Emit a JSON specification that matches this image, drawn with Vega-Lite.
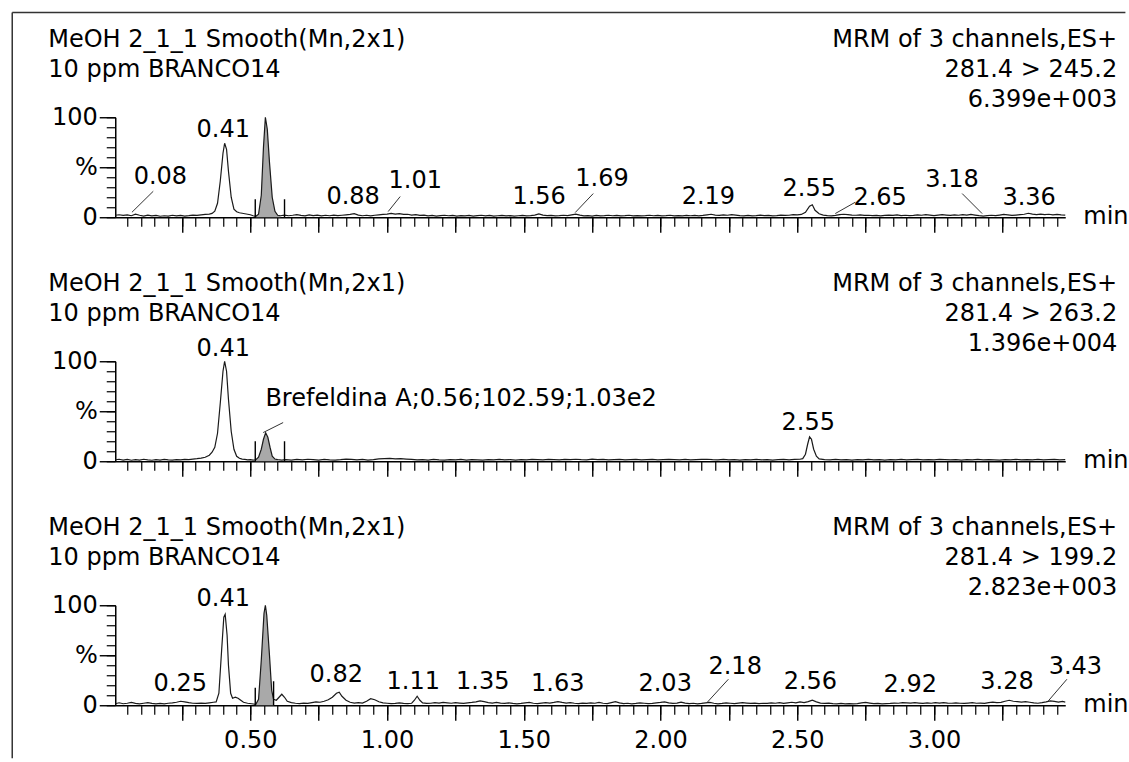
{
"$schema":"https://vega.github.io/schema/vega-lite/v6.json",
"padding":{"left":11.25,"top":11.25,"right":0,"bottom":0},
"background":"white",
"spacing":144,
"bounds":"flush",
"config":{"view":{"stroke":null},"text":{"font":"DejaVu Sans","fontSize":24,"color":"#000"},"axis":{"labelFont":"DejaVu Sans","labelFontSize":24,"labelColor":"#000","domainColor":"#000","tickColor":"#000","grid":false}},
"datasets":{
"c1":[{"t":0.006,"v":2},{"t":0.02,"v":2.5},{"t":0.035,"v":1.8},{"t":0.05,"v":2.4},{"t":0.065,"v":1.5},{"t":0.08,"v":3},{"t":0.095,"v":2},{"t":0.11,"v":1.2},{"t":0.125,"v":2.2},{"t":0.14,"v":1.4},{"t":0.155,"v":1.8},{"t":0.17,"v":1},{"t":0.185,"v":1.5},{"t":0.2,"v":1.2},{"t":0.215,"v":2},{"t":0.23,"v":1.4},{"t":0.245,"v":1.8},{"t":0.26,"v":1.2},{"t":0.275,"v":1.6},{"t":0.29,"v":2.2},{"t":0.305,"v":1.8},{"t":0.32,"v":2.4},{"t":0.335,"v":2.8},{"t":0.35,"v":3.2},{"t":0.36,"v":3.8},{"t":0.37,"v":6},{"t":0.38,"v":14},{"t":0.39,"v":36},{"t":0.4,"v":64},{"t":0.406,"v":74},{"t":0.413,"v":68},{"t":0.42,"v":46},{"t":0.43,"v":20},{"t":0.44,"v":8},{"t":0.45,"v":5.5},{"t":0.46,"v":4.5},{"t":0.47,"v":4},{"t":0.48,"v":3.5},{"t":0.49,"v":3},{"t":0.5,"v":2.5},{"t":0.51,"v":1.5},{"t":0.52,"v":1},{"t":0.53,"v":3},{"t":0.54,"v":22},{"t":0.548,"v":70},{"t":0.555,"v":100},{"t":0.562,"v":88},{"t":0.57,"v":55},{"t":0.58,"v":20},{"t":0.59,"v":6},{"t":0.6,"v":2},{"t":0.61,"v":1.5},{"t":0.625,"v":2.2},{"t":0.64,"v":1.5},{"t":0.655,"v":2},{"t":0.67,"v":2.6},{"t":0.685,"v":1.8},{"t":0.7,"v":1.4},{"t":0.715,"v":2.4},{"t":0.73,"v":1.6},{"t":0.745,"v":2.2},{"t":0.76,"v":1.4},{"t":0.775,"v":2},{"t":0.79,"v":1.5},{"t":0.805,"v":2.2},{"t":0.82,"v":1.6},{"t":0.835,"v":2},{"t":0.85,"v":2.4},{"t":0.865,"v":2.8},{"t":0.88,"v":3.6},{"t":0.895,"v":2.2},{"t":0.91,"v":1.5},{"t":0.925,"v":2},{"t":0.94,"v":1.4},{"t":0.955,"v":2},{"t":0.97,"v":2.4},{"t":0.985,"v":2.8},{"t":1.0,"v":3.2},{"t":1.015,"v":3.8},{"t":1.03,"v":3.2},{"t":1.045,"v":3.6},{"t":1.06,"v":2.8},{"t":1.075,"v":3},{"t":1.09,"v":2.2},{"t":1.105,"v":2.6},{"t":1.12,"v":1.8},{"t":1.135,"v":2.2},{"t":1.15,"v":1.4},{"t":1.165,"v":1.8},{"t":1.18,"v":1.2},{"t":1.195,"v":1.6},{"t":1.21,"v":2},{"t":1.225,"v":1.5},{"t":1.24,"v":1.8},{"t":1.255,"v":1.2},{"t":1.27,"v":1.6},{"t":1.285,"v":1.4},{"t":1.3,"v":1.8},{"t":1.315,"v":1.2},{"t":1.33,"v":1.6},{"t":1.345,"v":2},{"t":1.36,"v":1.4},{"t":1.375,"v":1.8},{"t":1.39,"v":1.2},{"t":1.405,"v":1.5},{"t":1.42,"v":1.8},{"t":1.435,"v":1.3},{"t":1.45,"v":1.6},{"t":1.465,"v":1.2},{"t":1.48,"v":1.5},{"t":1.495,"v":1.8},{"t":1.51,"v":1.4},{"t":1.525,"v":1.6},{"t":1.54,"v":2.2},{"t":1.555,"v":3.4},{"t":1.57,"v":2.2},{"t":1.585,"v":1.6},{"t":1.6,"v":1.8},{"t":1.615,"v":1.4},{"t":1.63,"v":1.6},{"t":1.645,"v":2},{"t":1.66,"v":1.6},{"t":1.675,"v":2.4},{"t":1.69,"v":3.2},{"t":1.705,"v":2.2},{"t":1.72,"v":1.4},{"t":1.735,"v":1.6},{"t":1.75,"v":1.2},{"t":1.765,"v":1.8},{"t":1.78,"v":1.4},{"t":1.795,"v":1.6},{"t":1.81,"v":2},{"t":1.825,"v":1.5},{"t":1.84,"v":1.8},{"t":1.855,"v":1.3},{"t":1.87,"v":1.6},{"t":1.885,"v":2},{"t":1.9,"v":1.4},{"t":1.915,"v":1.7},{"t":1.93,"v":1.3},{"t":1.945,"v":1.6},{"t":1.96,"v":2},{"t":1.975,"v":1.5},{"t":1.99,"v":1.8},{"t":2.005,"v":1.4},{"t":2.02,"v":1.6},{"t":2.035,"v":2},{"t":2.05,"v":1.4},{"t":2.065,"v":1.7},{"t":2.08,"v":1.3},{"t":2.095,"v":1.8},{"t":2.11,"v":1.5},{"t":2.125,"v":1.9},{"t":2.14,"v":1.4},{"t":2.155,"v":1.8},{"t":2.17,"v":2.4},{"t":2.185,"v":3},{"t":2.2,"v":2.2},{"t":2.215,"v":1.8},{"t":2.23,"v":2.4},{"t":2.245,"v":2},{"t":2.26,"v":2.6},{"t":2.275,"v":2.2},{"t":2.29,"v":1.6},{"t":2.305,"v":1.4},{"t":2.32,"v":1.8},{"t":2.335,"v":1.4},{"t":2.35,"v":1.6},{"t":2.365,"v":2.2},{"t":2.38,"v":1.6},{"t":2.395,"v":1.8},{"t":2.41,"v":1.4},{"t":2.425,"v":1.6},{"t":2.44,"v":2.2},{"t":2.455,"v":1.8},{"t":2.47,"v":2},{"t":2.485,"v":2.6},{"t":2.5,"v":2.4},{"t":2.515,"v":2.8},{"t":2.53,"v":5},{"t":2.545,"v":11},{"t":2.555,"v":12.5},{"t":2.565,"v":7},{"t":2.58,"v":3.5},{"t":2.595,"v":2.2},{"t":2.61,"v":1.6},{"t":2.625,"v":1.4},{"t":2.64,"v":1.8},{"t":2.655,"v":2.6},{"t":2.67,"v":3},{"t":2.685,"v":2.6},{"t":2.7,"v":2.2},{"t":2.715,"v":2},{"t":2.73,"v":2.4},{"t":2.745,"v":1.8},{"t":2.76,"v":2},{"t":2.775,"v":1.6},{"t":2.79,"v":1.8},{"t":2.805,"v":1.4},{"t":2.82,"v":1.8},{"t":2.835,"v":2.2},{"t":2.85,"v":1.8},{"t":2.865,"v":2.4},{"t":2.88,"v":1.6},{"t":2.895,"v":2},{"t":2.91,"v":1.6},{"t":2.925,"v":1.8},{"t":2.94,"v":2.4},{"t":2.955,"v":2},{"t":2.97,"v":2.6},{"t":2.985,"v":2.2},{"t":3.0,"v":1.6},{"t":3.015,"v":2.2},{"t":3.03,"v":2.6},{"t":3.045,"v":2.2},{"t":3.06,"v":1.8},{"t":3.075,"v":2.4},{"t":3.09,"v":2},{"t":3.105,"v":2.6},{"t":3.12,"v":2.2},{"t":3.135,"v":2.8},{"t":3.15,"v":2.2},{"t":3.165,"v":1.6},{"t":3.18,"v":1.2},{"t":3.195,"v":1.6},{"t":3.21,"v":2},{"t":3.225,"v":1.6},{"t":3.24,"v":2.2},{"t":3.255,"v":2.8},{"t":3.27,"v":2.4},{"t":3.285,"v":1.8},{"t":3.3,"v":2.2},{"t":3.315,"v":2.6},{"t":3.33,"v":3},{"t":3.345,"v":4},{"t":3.36,"v":3.2},{"t":3.375,"v":2.6},{"t":3.39,"v":3.2},{"t":3.405,"v":2.6},{"t":3.42,"v":3},{"t":3.435,"v":2.4},{"t":3.45,"v":2.8},{"t":3.465,"v":2.4},{"t":3.48,"v":2.2}],
"c2":[{"t":0.006,"v":1.5},{"t":0.02,"v":2},{"t":0.035,"v":1.2},{"t":0.05,"v":1.8},{"t":0.065,"v":1},{"t":0.08,"v":1.6},{"t":0.095,"v":1.2},{"t":0.11,"v":2},{"t":0.125,"v":1.4},{"t":0.14,"v":1},{"t":0.155,"v":1.6},{"t":0.17,"v":1.2},{"t":0.185,"v":1.8},{"t":0.2,"v":1.4},{"t":0.215,"v":1.2},{"t":0.23,"v":1.6},{"t":0.245,"v":1.4},{"t":0.26,"v":1.8},{"t":0.275,"v":1.6},{"t":0.29,"v":2.2},{"t":0.305,"v":2.6},{"t":0.32,"v":3.2},{"t":0.335,"v":4},{"t":0.35,"v":6},{"t":0.36,"v":9},{"t":0.37,"v":14},{"t":0.38,"v":28},{"t":0.39,"v":58},{"t":0.4,"v":90},{"t":0.406,"v":100},{"t":0.413,"v":90},{"t":0.42,"v":62},{"t":0.43,"v":30},{"t":0.44,"v":12},{"t":0.45,"v":5},{"t":0.46,"v":3},{"t":0.47,"v":2.2},{"t":0.48,"v":1.8},{"t":0.49,"v":1.4},{"t":0.5,"v":1.6},{"t":0.51,"v":1.2},{"t":0.52,"v":1.5},{"t":0.53,"v":4},{"t":0.54,"v":12},{"t":0.548,"v":22},{"t":0.556,"v":28.5},{"t":0.564,"v":24},{"t":0.572,"v":14},{"t":0.58,"v":5},{"t":0.59,"v":2.2},{"t":0.6,"v":1.6},{"t":0.615,"v":1.2},{"t":0.63,"v":1.6},{"t":0.65,"v":1.2},{"t":0.67,"v":1.8},{"t":0.69,"v":1.4},{"t":0.71,"v":2},{"t":0.73,"v":1.6},{"t":0.75,"v":1.2},{"t":0.77,"v":1.8},{"t":0.79,"v":1.4},{"t":0.81,"v":1.2},{"t":0.83,"v":1.6},{"t":0.85,"v":2.2},{"t":0.87,"v":1.8},{"t":0.89,"v":1.4},{"t":0.91,"v":1.8},{"t":0.93,"v":1.2},{"t":0.95,"v":1.6},{"t":0.97,"v":2.4},{"t":0.99,"v":2.6},{"t":1.01,"v":2.8},{"t":1.03,"v":2.4},{"t":1.05,"v":2.6},{"t":1.07,"v":2.2},{"t":1.09,"v":1.8},{"t":1.11,"v":1.4},{"t":1.13,"v":1.6},{"t":1.15,"v":1.2},{"t":1.17,"v":1.8},{"t":1.19,"v":1.4},{"t":1.21,"v":1.2},{"t":1.23,"v":1.6},{"t":1.25,"v":1.4},{"t":1.27,"v":1.8},{"t":1.29,"v":1.2},{"t":1.31,"v":1.6},{"t":1.33,"v":1.4},{"t":1.35,"v":1.2},{"t":1.37,"v":1.6},{"t":1.39,"v":1.4},{"t":1.41,"v":1.8},{"t":1.43,"v":1.4},{"t":1.45,"v":1.6},{"t":1.47,"v":1.2},{"t":1.49,"v":1.6},{"t":1.51,"v":1.4},{"t":1.53,"v":1.8},{"t":1.55,"v":1.6},{"t":1.57,"v":1.4},{"t":1.59,"v":1.8},{"t":1.61,"v":1.6},{"t":1.63,"v":1.4},{"t":1.65,"v":1.8},{"t":1.67,"v":1.6},{"t":1.69,"v":2},{"t":1.71,"v":1.6},{"t":1.73,"v":1.4},{"t":1.75,"v":2.2},{"t":1.77,"v":1.6},{"t":1.79,"v":1.8},{"t":1.81,"v":1.4},{"t":1.83,"v":1.6},{"t":1.85,"v":1.8},{"t":1.87,"v":1.4},{"t":1.89,"v":1.6},{"t":1.91,"v":1.8},{"t":1.93,"v":1.4},{"t":1.95,"v":1.6},{"t":1.97,"v":1.8},{"t":1.99,"v":1.4},{"t":2.01,"v":1.6},{"t":2.03,"v":1.8},{"t":2.05,"v":1.6},{"t":2.07,"v":1.4},{"t":2.09,"v":1.8},{"t":2.11,"v":1.4},{"t":2.13,"v":1.6},{"t":2.15,"v":1.8},{"t":2.17,"v":2},{"t":2.19,"v":1.6},{"t":2.21,"v":1.4},{"t":2.23,"v":1.8},{"t":2.25,"v":1.4},{"t":2.27,"v":1.6},{"t":2.29,"v":1.2},{"t":2.31,"v":1.6},{"t":2.33,"v":1.4},{"t":2.35,"v":1.8},{"t":2.37,"v":1.4},{"t":2.39,"v":1.6},{"t":2.41,"v":1.2},{"t":2.43,"v":1.6},{"t":2.45,"v":1.8},{"t":2.47,"v":1.4},{"t":2.49,"v":1.8},{"t":2.51,"v":2},{"t":2.52,"v":2.6},{"t":2.53,"v":7},{"t":2.538,"v":17},{"t":2.545,"v":24.5},{"t":2.552,"v":22},{"t":2.56,"v":12},{"t":2.57,"v":5},{"t":2.58,"v":2.4},{"t":2.6,"v":1.6},{"t":2.62,"v":1.4},{"t":2.64,"v":1.8},{"t":2.66,"v":1.4},{"t":2.68,"v":1.6},{"t":2.7,"v":1.2},{"t":2.72,"v":1.6},{"t":2.74,"v":1.4},{"t":2.76,"v":1.8},{"t":2.78,"v":1.4},{"t":2.8,"v":1.6},{"t":2.82,"v":1.2},{"t":2.84,"v":1.6},{"t":2.86,"v":1.4},{"t":2.88,"v":1.8},{"t":2.9,"v":1.4},{"t":2.92,"v":1.6},{"t":2.94,"v":1.8},{"t":2.96,"v":1.4},{"t":2.98,"v":1.6},{"t":3.0,"v":1.4},{"t":3.02,"v":1.8},{"t":3.04,"v":1.6},{"t":3.06,"v":1.4},{"t":3.08,"v":1.6},{"t":3.1,"v":1.2},{"t":3.12,"v":1.6},{"t":3.14,"v":1.4},{"t":3.16,"v":1.8},{"t":3.18,"v":1.4},{"t":3.2,"v":1.6},{"t":3.22,"v":1.4},{"t":3.24,"v":1.2},{"t":3.26,"v":1.6},{"t":3.28,"v":1.4},{"t":3.3,"v":1.8},{"t":3.32,"v":1.4},{"t":3.34,"v":1.6},{"t":3.36,"v":1.4},{"t":3.38,"v":1.8},{"t":3.4,"v":1.4},{"t":3.42,"v":1.6},{"t":3.44,"v":1.8},{"t":3.46,"v":1.4},{"t":3.48,"v":1.6}],
"c3":[{"t":0.006,"v":1.5},{"t":0.02,"v":2.5},{"t":0.035,"v":1.5},{"t":0.05,"v":2},{"t":0.065,"v":2.8},{"t":0.08,"v":1.8},{"t":0.095,"v":1.4},{"t":0.11,"v":2},{"t":0.125,"v":2.6},{"t":0.14,"v":1.8},{"t":0.155,"v":1.4},{"t":0.17,"v":1.8},{"t":0.185,"v":1.4},{"t":0.2,"v":2},{"t":0.215,"v":2.4},{"t":0.23,"v":3},{"t":0.245,"v":4},{"t":0.26,"v":3.4},{"t":0.275,"v":2.6},{"t":0.29,"v":2},{"t":0.305,"v":1.8},{"t":0.32,"v":2.2},{"t":0.335,"v":1.8},{"t":0.35,"v":2.4},{"t":0.365,"v":3},{"t":0.375,"v":3.4},{"t":0.385,"v":12},{"t":0.395,"v":55},{"t":0.403,"v":88},{"t":0.408,"v":91},{"t":0.415,"v":70},{"t":0.42,"v":40},{"t":0.428,"v":12},{"t":0.435,"v":7},{"t":0.445,"v":8},{"t":0.455,"v":7},{"t":0.465,"v":5},{"t":0.475,"v":3},{"t":0.49,"v":2},{"t":0.505,"v":1.5},{"t":0.52,"v":1},{"t":0.53,"v":6},{"t":0.54,"v":45},{"t":0.55,"v":92},{"t":0.555,"v":100},{"t":0.56,"v":90},{"t":0.57,"v":50},{"t":0.578,"v":15},{"t":0.585,"v":6},{"t":0.595,"v":5},{"t":0.605,"v":8},{"t":0.615,"v":11},{"t":0.625,"v":8},{"t":0.635,"v":4},{"t":0.65,"v":2.6},{"t":0.665,"v":2},{"t":0.68,"v":1.6},{"t":0.695,"v":2.2},{"t":0.71,"v":1.8},{"t":0.725,"v":2.6},{"t":0.74,"v":3.4},{"t":0.755,"v":3},{"t":0.77,"v":4},{"t":0.785,"v":5.5},{"t":0.8,"v":8},{"t":0.815,"v":12},{"t":0.825,"v":13},{"t":0.835,"v":9},{"t":0.85,"v":5},{"t":0.865,"v":3},{"t":0.88,"v":2.2},{"t":0.895,"v":2.6},{"t":0.91,"v":2.2},{"t":0.925,"v":4},{"t":0.94,"v":6.5},{"t":0.955,"v":5.5},{"t":0.97,"v":3.5},{"t":0.985,"v":2.4},{"t":1.0,"v":2},{"t":1.015,"v":1.6},{"t":1.03,"v":1.8},{"t":1.045,"v":2.4},{"t":1.06,"v":1.8},{"t":1.075,"v":1.6},{"t":1.09,"v":2},{"t":1.1,"v":5},{"t":1.11,"v":9},{"t":1.12,"v":5},{"t":1.13,"v":2.4},{"t":1.145,"v":1.8},{"t":1.16,"v":2},{"t":1.175,"v":2.6},{"t":1.19,"v":2.2},{"t":1.205,"v":2.8},{"t":1.22,"v":2.4},{"t":1.235,"v":2},{"t":1.25,"v":2.6},{"t":1.265,"v":2.2},{"t":1.28,"v":1.8},{"t":1.295,"v":2.4},{"t":1.31,"v":2.8},{"t":1.325,"v":3.4},{"t":1.34,"v":4.4},{"t":1.355,"v":3.6},{"t":1.37,"v":2.6},{"t":1.385,"v":2.2},{"t":1.4,"v":2.8},{"t":1.415,"v":2.2},{"t":1.43,"v":1.8},{"t":1.445,"v":2.4},{"t":1.46,"v":1.8},{"t":1.475,"v":1.4},{"t":1.49,"v":1.8},{"t":1.505,"v":2.4},{"t":1.52,"v":2.8},{"t":1.535,"v":2},{"t":1.55,"v":1.6},{"t":1.565,"v":2.2},{"t":1.58,"v":2.6},{"t":1.595,"v":2.2},{"t":1.61,"v":2.8},{"t":1.625,"v":3.6},{"t":1.64,"v":2.8},{"t":1.655,"v":2.2},{"t":1.67,"v":2.6},{"t":1.685,"v":2},{"t":1.7,"v":1.6},{"t":1.715,"v":2.2},{"t":1.73,"v":1.8},{"t":1.745,"v":2.4},{"t":1.76,"v":2},{"t":1.775,"v":2.8},{"t":1.79,"v":2},{"t":1.805,"v":1.6},{"t":1.82,"v":2.6},{"t":1.835,"v":3.6},{"t":1.85,"v":2.4},{"t":1.865,"v":1.6},{"t":1.88,"v":2},{"t":1.895,"v":1.4},{"t":1.91,"v":1.8},{"t":1.925,"v":2.4},{"t":1.94,"v":2},{"t":1.955,"v":1.6},{"t":1.97,"v":1.8},{"t":1.985,"v":2.4},{"t":2.0,"v":2.8},{"t":2.015,"v":3.4},{"t":2.03,"v":2.4},{"t":2.045,"v":1.8},{"t":2.06,"v":2.2},{"t":2.075,"v":3.2},{"t":2.09,"v":2.2},{"t":2.105,"v":1.6},{"t":2.12,"v":2},{"t":2.135,"v":1.4},{"t":2.15,"v":1.8},{"t":2.165,"v":2.4},{"t":2.18,"v":2.8},{"t":2.195,"v":2},{"t":2.21,"v":1.4},{"t":2.225,"v":1.8},{"t":2.24,"v":2.4},{"t":2.255,"v":2},{"t":2.27,"v":1.6},{"t":2.285,"v":2.2},{"t":2.3,"v":2.6},{"t":2.315,"v":2.2},{"t":2.33,"v":1.8},{"t":2.345,"v":2.2},{"t":2.36,"v":1.6},{"t":2.375,"v":2},{"t":2.39,"v":1.8},{"t":2.405,"v":2.4},{"t":2.42,"v":2},{"t":2.435,"v":2.6},{"t":2.45,"v":1.8},{"t":2.465,"v":2.4},{"t":2.48,"v":3},{"t":2.495,"v":2.4},{"t":2.51,"v":3.4},{"t":2.525,"v":2.6},{"t":2.54,"v":3.6},{"t":2.555,"v":5},{"t":2.57,"v":3.4},{"t":2.585,"v":2.2},{"t":2.6,"v":1.8},{"t":2.615,"v":2.2},{"t":2.63,"v":1.6},{"t":2.645,"v":1.4},{"t":2.66,"v":1.8},{"t":2.675,"v":1.4},{"t":2.69,"v":1.6},{"t":2.705,"v":1.4},{"t":2.72,"v":1.6},{"t":2.735,"v":2.4},{"t":2.75,"v":2.8},{"t":2.765,"v":2.2},{"t":2.78,"v":1.6},{"t":2.795,"v":1.8},{"t":2.81,"v":1.4},{"t":2.825,"v":1.6},{"t":2.84,"v":1.8},{"t":2.855,"v":2.2},{"t":2.87,"v":2},{"t":2.885,"v":2.6},{"t":2.9,"v":2.4},{"t":2.915,"v":2.2},{"t":2.93,"v":2.6},{"t":2.945,"v":2.2},{"t":2.96,"v":1.8},{"t":2.975,"v":2.4},{"t":2.99,"v":2},{"t":3.005,"v":2.6},{"t":3.02,"v":2.2},{"t":3.035,"v":2.6},{"t":3.05,"v":2.2},{"t":3.065,"v":2},{"t":3.08,"v":2.4},{"t":3.095,"v":2},{"t":3.11,"v":1.8},{"t":3.125,"v":2.2},{"t":3.14,"v":2.6},{"t":3.155,"v":2},{"t":3.17,"v":2.2},{"t":3.185,"v":1.8},{"t":3.2,"v":2.6},{"t":3.215,"v":3.2},{"t":3.23,"v":2.6},{"t":3.245,"v":2.8},{"t":3.26,"v":4},{"t":3.275,"v":5},{"t":3.29,"v":4},{"t":3.305,"v":3.6},{"t":3.32,"v":3.2},{"t":3.335,"v":3.6},{"t":3.35,"v":3},{"t":3.365,"v":2.4},{"t":3.38,"v":2},{"t":3.395,"v":2.6},{"t":3.41,"v":3.4},{"t":3.425,"v":4.4},{"t":3.44,"v":3.8},{"t":3.455,"v":3.2},{"t":3.47,"v":3.8},{"t":3.48,"v":3.2}],
"l1":[{"lx":0.171,"ly":33,"txt":"0.08"},{"lx":0.401,"ly":80,"txt":"0.41"},{"lx":0.876,"ly":13.5,"txt":"0.88"},{"lx":1.103,"ly":29.5,"txt":"1.01"},{"lx":1.556,"ly":13.5,"txt":"1.56"},{"lx":1.786,"ly":31.5,"txt":"1.69"},{"lx":2.175,"ly":13.5,"txt":"2.19"},{"lx":2.544,"ly":21.5,"txt":"2.55"},{"lx":2.803,"ly":12.5,"txt":"2.65"},{"lx":3.066,"ly":30,"txt":"3.18"},{"lx":3.348,"ly":12.5,"txt":"3.36"}],
"l2":[{"lx":0.401,"ly":105,"txt":"0.41"},{"lx":2.54,"ly":31,"txt":"2.55"}],
"b2":[{"lx":0.555,"ly":55,"txt":"Brefeldina A;0.56;102.59;1.03e2"}],
"l3":[{"lx":0.244,"ly":14,"txt":"0.25"},{"lx":0.401,"ly":99,"txt":"0.41"},{"lx":0.814,"ly":23,"txt":"0.82"},{"lx":1.096,"ly":16,"txt":"1.11"},{"lx":1.35,"ly":16,"txt":"1.35"},{"lx":1.624,"ly":14,"txt":"1.63"},{"lx":2.017,"ly":14,"txt":"2.03"},{"lx":2.273,"ly":31,"txt":"2.18"},{"lx":2.548,"ly":16,"txt":"2.56"},{"lx":2.913,"ly":13,"txt":"2.92"},{"lx":3.267,"ly":16,"txt":"3.28"},{"lx":3.517,"ly":31,"txt":"3.43"}],
"k1":[{"t1":0.145,"v1":26,"t2":0.067,"v2":5},{"t1":1.048,"v1":20.7,"t2":1.004,"v2":5.7},{"t1":1.754,"v1":23.7,"t2":1.688,"v2":4.7},{"t1":2.712,"v1":15,"t2":2.639,"v2":3.7},{"t1":3.103,"v1":23.7,"t2":3.176,"v2":3.7}],
"k2":[{"t1":0.62,"v1":38.7,"t2":0.547,"v2":28.7}],
"k3":[{"t1":2.248,"v1":26,"t2":2.17,"v2":2.7},{"t1":3.486,"v1":26,"t2":3.418,"v2":4.3}],
"m1":[{"t":0.518,"v1":0,"v2":18},{"t":0.625,"v1":0,"v2":18}],
"m2":[{"t":0.518,"v1":0,"v2":20},{"t":0.625,"v1":0,"v2":20}],
"m3":[{"t":0.518,"v1":0,"v2":17.5},{"t":0.585,"v1":0,"v2":24}],
"hl":[{"t":-0.239,"y":170.5,"txt":"MeOH 2_1_1 Smooth(Mn,2x1)"},{"t":-0.239,"y":140.5,"txt":"10 ppm BRANCO14"},{"t":3.546,"y":-6.5,"txt":"min"}],
"hr1":[{"t":3.67,"y":170.5,"txt":"MRM of 3 channels,ES+"},{"t":3.67,"y":140.5,"txt":"281.4 > 245.2"},{"t":3.67,"y":110.5,"txt":"6.399e+003"}],
"hr2":[{"t":3.67,"y":170.5,"txt":"MRM of 3 channels,ES+"},{"t":3.67,"y":140.5,"txt":"281.4 > 263.2"},{"t":3.67,"y":110.5,"txt":"1.396e+004"}],
"hr3":[{"t":3.67,"y":170.5,"txt":"MRM of 3 channels,ES+"},{"t":3.67,"y":140.5,"txt":"281.4 > 199.2"},{"t":3.67,"y":110.5,"txt":"2.823e+003"}],
"fr":[{"t1":-0.3707,"v1":204.7,"t2":3.7,"v2":204.7},{"t1":-0.3707,"v1":204.7,"t2":-0.3707,"v2":-541}]
},
"vconcat":[
{"width":950,"height":100,
"layer":[
{"data":{"name":"c1"},"transform":[{"filter":"datum.t>=0.52 && datum.t<=0.61"}],"mark":{"type":"area","color":"#a9a9a9"},
"encoding":{"x":{"field":"t","type":"quantitative","scale":{"domain":[0.006,3.48],"nice":false,"zero":false},"axis":{"orient":"bottom","values":[0.05,0.1,0.15,0.2,0.25,0.3,0.35,0.4,0.45,0.5,0.55,0.6,0.65,0.7,0.75,0.8,0.85,0.9,0.95,1,1.05,1.1,1.15,1.2,1.25,1.3,1.35,1.4,1.45,1.5,1.55,1.6,1.65,1.7,1.75,1.8,1.85,1.9,1.95,2,2.05,2.1,2.15,2.2,2.25,2.3,2.35,2.4,2.45,2.5,2.55,2.6,2.65,2.7,2.75,2.8,2.85,2.9,2.95,3,3.05,3.1,3.15,3.2,3.25,3.3,3.35,3.4,3.45],"tickSize":9,"tickWidth":1.2,"labels":false,"domain":true,"domainWidth":1.5,"title":null}},
"y":{"field":"v","type":"quantitative","scale":{"domain":[0,100],"nice":false},"axis":{"orient":"left","values":[0,10,20,30,40,50,60,70,80,90,100],"tickSize":9,"tickWidth":1.2,"labels":false,"domain":true,"domainWidth":1.5,"title":null}}}},
{"data":{"name":"c1"},"mark":{"type":"line","color":"#1a1a1a","strokeWidth":1.2},
"encoding":{"x":{"field":"t","type":"quantitative","scale":{"domain":[0.006,3.48],"nice":false,"zero":false},"axis":{"orient":"bottom","values":[0.25,0.5,0.75,1,1.25,1.5,1.75,2,2.25,2.5,2.75,3,3.25],"tickSize":15,"tickWidth":1.4,"labels":false,"domain":false,"title":null}},
"y":{"field":"v","type":"quantitative","scale":{"domain":[0,100],"nice":false},"axis":{"orient":"left","values":[0,50,100],"tickSize":16,"tickWidth":1.4,"labelPadding":2,"labelFlush":false,"labelOverlap":false,"labelExpr":"datum.value==50?'%':datum.label","domain":false,"title":null}}}},
{"data":{"name":"m1"},"mark":{"type":"rule","color":"#000","strokeWidth":1.4},"encoding":{"x":{"field":"t","type":"quantitative","scale":{"domain":[0.006,3.48],"nice":false,"zero":false},"axis":null},"y":{"field":"v1","type":"quantitative","scale":{"domain":[0,100],"nice":false},"axis":null},"y2":{"field":"v2"}}},
{"data":{"name":"k1"},"mark":{"type":"rule","color":"#333","strokeWidth":1},"encoding":{"x":{"field":"t1","type":"quantitative","scale":{"domain":[0.006,3.48],"nice":false,"zero":false},"axis":null},"y":{"field":"v1","type":"quantitative","scale":{"domain":[0,100],"nice":false},"axis":null},"x2":{"field":"t2"},"y2":{"field":"v2"}}},
{"data":{"name":"l1"},"mark":{"type":"text","align":"center","baseline":"alphabetic"},"encoding":{"x":{"field":"lx","type":"quantitative","scale":{"domain":[0.006,3.48],"nice":false,"zero":false},"axis":null},"y":{"field":"ly","type":"quantitative","scale":{"domain":[0,100],"nice":false},"axis":null},"text":{"field":"txt"}}},
{"data":{"name":"hl"},"mark":{"type":"text","align":"left","baseline":"alphabetic"},"encoding":{"x":{"field":"t","type":"quantitative","scale":{"domain":[0.006,3.48],"nice":false,"zero":false},"axis":null},"y":{"field":"y","type":"quantitative","scale":{"domain":[0,100],"nice":false},"axis":null},"text":{"field":"txt"}}},
{"data":{"name":"hr1"},"mark":{"type":"text","align":"right","baseline":"alphabetic"},"encoding":{"x":{"field":"t","type":"quantitative","scale":{"domain":[0.006,3.48],"nice":false,"zero":false},"axis":null},"y":{"field":"y","type":"quantitative","scale":{"domain":[0,100],"nice":false},"axis":null},"text":{"field":"txt"}}},
{"data":{"name":"fr"},"mark":{"type":"rule","color":"#333","strokeWidth":1.5},"encoding":{"x":{"field":"t1","type":"quantitative","scale":{"domain":[0.006,3.48],"nice":false,"zero":false},"axis":null},"y":{"field":"v1","type":"quantitative","scale":{"domain":[0,100],"nice":false},"axis":null},"x2":{"field":"t2"},"y2":{"field":"v2"}}}
],
"resolve":{"axis":{"x":"independent","y":"independent"}}},
{"width":950,"height":100,
"layer":[
{"data":{"name":"c2"},"transform":[{"filter":"datum.t>=0.52 && datum.t<=0.6"}],"mark":{"type":"area","color":"#a9a9a9"},
"encoding":{"x":{"field":"t","type":"quantitative","scale":{"domain":[0.006,3.48],"nice":false,"zero":false},"axis":{"orient":"bottom","values":[0.05,0.1,0.15,0.2,0.25,0.3,0.35,0.4,0.45,0.5,0.55,0.6,0.65,0.7,0.75,0.8,0.85,0.9,0.95,1,1.05,1.1,1.15,1.2,1.25,1.3,1.35,1.4,1.45,1.5,1.55,1.6,1.65,1.7,1.75,1.8,1.85,1.9,1.95,2,2.05,2.1,2.15,2.2,2.25,2.3,2.35,2.4,2.45,2.5,2.55,2.6,2.65,2.7,2.75,2.8,2.85,2.9,2.95,3,3.05,3.1,3.15,3.2,3.25,3.3,3.35,3.4,3.45],"tickSize":9,"tickWidth":1.2,"labels":false,"domain":true,"domainWidth":1.5,"title":null}},
"y":{"field":"v","type":"quantitative","scale":{"domain":[0,100],"nice":false},"axis":{"orient":"left","values":[0,10,20,30,40,50,60,70,80,90,100],"tickSize":9,"tickWidth":1.2,"labels":false,"domain":true,"domainWidth":1.5,"title":null}}}},
{"data":{"name":"c2"},"mark":{"type":"line","color":"#1a1a1a","strokeWidth":1.2},
"encoding":{"x":{"field":"t","type":"quantitative","scale":{"domain":[0.006,3.48],"nice":false,"zero":false},"axis":{"orient":"bottom","values":[0.25,0.5,0.75,1,1.25,1.5,1.75,2,2.25,2.5,2.75,3,3.25],"tickSize":15,"tickWidth":1.4,"labels":false,"domain":false,"title":null}},
"y":{"field":"v","type":"quantitative","scale":{"domain":[0,100],"nice":false},"axis":{"orient":"left","values":[0,50,100],"tickSize":16,"tickWidth":1.4,"labelPadding":2,"labelFlush":false,"labelOverlap":false,"labelExpr":"datum.value==50?'%':datum.label","domain":false,"title":null}}}},
{"data":{"name":"m2"},"mark":{"type":"rule","color":"#000","strokeWidth":1.4},"encoding":{"x":{"field":"t","type":"quantitative","scale":{"domain":[0.006,3.48],"nice":false,"zero":false},"axis":null},"y":{"field":"v1","type":"quantitative","scale":{"domain":[0,100],"nice":false},"axis":null},"y2":{"field":"v2"}}},
{"data":{"name":"k2"},"mark":{"type":"rule","color":"#333","strokeWidth":1},"encoding":{"x":{"field":"t1","type":"quantitative","scale":{"domain":[0.006,3.48],"nice":false,"zero":false},"axis":null},"y":{"field":"v1","type":"quantitative","scale":{"domain":[0,100],"nice":false},"axis":null},"x2":{"field":"t2"},"y2":{"field":"v2"}}},
{"data":{"name":"l2"},"mark":{"type":"text","align":"center","baseline":"alphabetic"},"encoding":{"x":{"field":"lx","type":"quantitative","scale":{"domain":[0.006,3.48],"nice":false,"zero":false},"axis":null},"y":{"field":"ly","type":"quantitative","scale":{"domain":[0,100],"nice":false},"axis":null},"text":{"field":"txt"}}},
{"data":{"name":"b2"},"mark":{"type":"text","align":"left","baseline":"alphabetic"},"encoding":{"x":{"field":"lx","type":"quantitative","scale":{"domain":[0.006,3.48],"nice":false,"zero":false},"axis":null},"y":{"field":"ly","type":"quantitative","scale":{"domain":[0,100],"nice":false},"axis":null},"text":{"field":"txt"}}},
{"data":{"name":"hl"},"mark":{"type":"text","align":"left","baseline":"alphabetic"},"encoding":{"x":{"field":"t","type":"quantitative","scale":{"domain":[0.006,3.48],"nice":false,"zero":false},"axis":null},"y":{"field":"y","type":"quantitative","scale":{"domain":[0,100],"nice":false},"axis":null},"text":{"field":"txt"}}},
{"data":{"name":"hr2"},"mark":{"type":"text","align":"right","baseline":"alphabetic"},"encoding":{"x":{"field":"t","type":"quantitative","scale":{"domain":[0.006,3.48],"nice":false,"zero":false},"axis":null},"y":{"field":"y","type":"quantitative","scale":{"domain":[0,100],"nice":false},"axis":null},"text":{"field":"txt"}}}
],
"resolve":{"axis":{"x":"independent","y":"independent"}}},
{"width":950,"height":100,
"layer":[
{"data":{"name":"c3"},"transform":[{"filter":"datum.t>=0.52 && datum.t<=0.585"}],"mark":{"type":"area","color":"#a9a9a9"},
"encoding":{"x":{"field":"t","type":"quantitative","scale":{"domain":[0.006,3.48],"nice":false,"zero":false},"axis":{"orient":"bottom","values":[0.05,0.1,0.15,0.2,0.25,0.3,0.35,0.4,0.45,0.5,0.55,0.6,0.65,0.7,0.75,0.8,0.85,0.9,0.95,1,1.05,1.1,1.15,1.2,1.25,1.3,1.35,1.4,1.45,1.5,1.55,1.6,1.65,1.7,1.75,1.8,1.85,1.9,1.95,2,2.05,2.1,2.15,2.2,2.25,2.3,2.35,2.4,2.45,2.5,2.55,2.6,2.65,2.7,2.75,2.8,2.85,2.9,2.95,3,3.05,3.1,3.15,3.2,3.25,3.3,3.35,3.4,3.45],"tickSize":9,"tickWidth":1.2,"labels":false,"domain":true,"domainWidth":1.5,"title":null}},
"y":{"field":"v","type":"quantitative","scale":{"domain":[0,100],"nice":false},"axis":{"orient":"left","values":[0,10,20,30,40,50,60,70,80,90,100],"tickSize":9,"tickWidth":1.2,"labels":false,"domain":true,"domainWidth":1.5,"title":null}}}},
{"data":{"name":"c3"},"mark":{"type":"line","color":"#1a1a1a","strokeWidth":1.2},
"encoding":{"x":{"field":"t","type":"quantitative","scale":{"domain":[0.006,3.48],"nice":false,"zero":false},"axis":{"orient":"bottom","values":[0.25,0.5,0.75,1,1.25,1.5,1.75,2,2.25,2.5,2.75,3,3.25],"tickSize":15,"tickWidth":1.4,"labels":true,"labelPadding":8,"labelFlush":false,"labelOverlap":false,"labelExpr":"abs(datum.value*2-round(datum.value*2))<0.001 ? format(datum.value,'.2f') : ''","domain":false,"title":null}},
"y":{"field":"v","type":"quantitative","scale":{"domain":[0,100],"nice":false},"axis":{"orient":"left","values":[0,50,100],"tickSize":16,"tickWidth":1.4,"labelPadding":2,"labelFlush":false,"labelOverlap":false,"labelExpr":"datum.value==50?'%':datum.label","domain":false,"title":null}}}},
{"data":{"name":"m3"},"mark":{"type":"rule","color":"#000","strokeWidth":1.4},"encoding":{"x":{"field":"t","type":"quantitative","scale":{"domain":[0.006,3.48],"nice":false,"zero":false},"axis":null},"y":{"field":"v1","type":"quantitative","scale":{"domain":[0,100],"nice":false},"axis":null},"y2":{"field":"v2"}}},
{"data":{"name":"k3"},"mark":{"type":"rule","color":"#333","strokeWidth":1},"encoding":{"x":{"field":"t1","type":"quantitative","scale":{"domain":[0.006,3.48],"nice":false,"zero":false},"axis":null},"y":{"field":"v1","type":"quantitative","scale":{"domain":[0,100],"nice":false},"axis":null},"x2":{"field":"t2"},"y2":{"field":"v2"}}},
{"data":{"name":"l3"},"mark":{"type":"text","align":"center","baseline":"alphabetic"},"encoding":{"x":{"field":"lx","type":"quantitative","scale":{"domain":[0.006,3.48],"nice":false,"zero":false},"axis":null},"y":{"field":"ly","type":"quantitative","scale":{"domain":[0,100],"nice":false},"axis":null},"text":{"field":"txt"}}},
{"data":{"name":"hl"},"mark":{"type":"text","align":"left","baseline":"alphabetic"},"encoding":{"x":{"field":"t","type":"quantitative","scale":{"domain":[0.006,3.48],"nice":false,"zero":false},"axis":null},"y":{"field":"y","type":"quantitative","scale":{"domain":[0,100],"nice":false},"axis":null},"text":{"field":"txt"}}},
{"data":{"name":"hr3"},"mark":{"type":"text","align":"right","baseline":"alphabetic"},"encoding":{"x":{"field":"t","type":"quantitative","scale":{"domain":[0.006,3.48],"nice":false,"zero":false},"axis":null},"y":{"field":"y","type":"quantitative","scale":{"domain":[0,100],"nice":false},"axis":null},"text":{"field":"txt"}}}
],
"resolve":{"axis":{"x":"independent","y":"independent"}}}
]
}
